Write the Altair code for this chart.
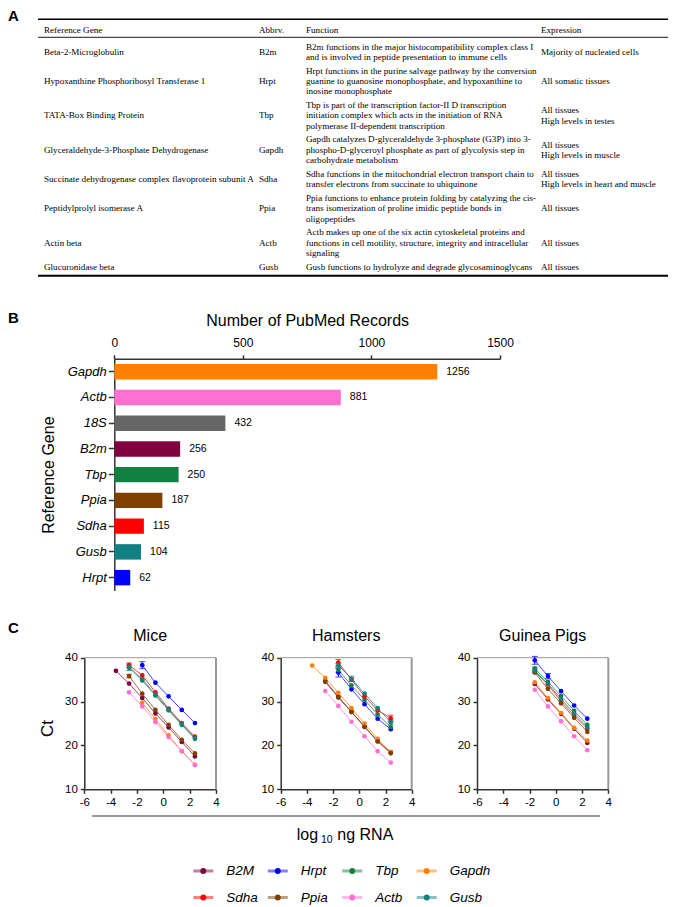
import altair as alt
import pandas as pd

W, H = 669, 897
SANS = "Liberation Sans"
SERIF = "Liberation Serif"

# ---------------- Panel A: reference gene table ----------------
table_header = ["Reference Gene", "Abbrv.", "Function", "Expression"]
gene_names = [
    "Beta-2-Microglobulin",
    "Hypoxanthine Phosphoribosyl Transferase 1",
    "TATA-Box Binding Protein",
    "Glyceraldehyde-3-Phosphate Dehydrogenase",
    "Succinate dehydrogenase complex flavoprotein subunit A",
    "Peptidylprolyl isomerase A",
    "Actin beta",
    "Glucuronidase beta",
]
gene_abbrs = ["B2m", "Hrpt", "Tbp", "Gapdh", "Sdha", "Ppia", "Actb", "Gusb"]
gene_functions = [
    ["B2m functions in the major histocompatibility complex class I",
     "and is involved in peptide presentation to immune cells"],
    ["Hrpt functions in the purine salvage pathway by the conversion",
     "guanine to guanosine monophosphate, and hypoxanthine to",
     "inosine monophosphate"],
    ["Tbp is part of the transcription factor-II D transcription",
     "initiation complex which acts in the initiation of RNA",
     "polymerase II-dependent transcription"],
    ["Gapdh catalyzes D-glyceraldehyde 3-phosphate (G3P) into 3-",
     "phospho-D-glyceroyl phosphate as part of glycolysis step in",
     "carbohydrate metabolism"],
    ["Sdha functions in the mitochondrial electron transport chain to",
     "transfer electrons from succinate to ubiquinone"],
    ["Ppia functions to enhance protein folding by catalyzing the cis-",
     "trans isomerization of proline imidic peptide bonds in",
     "oligopeptides"],
    ["Actb makes up one of the six actin cytoskeletal proteins and",
     "functions in cell motility, structure, integrity and intracellular",
     "signaling"],
    ["Gusb functions to hydrolyze and degrade glycosaminoglycans"],
]
gene_expression = [
    ["Majority of nucleated cells"],
    ["All somatic tissues"],
    ["All tissues", "High levels in testes"],
    ["All tissues", "High levels in muscle"],
    ["All tissues", "High levels in heart and muscle"],
    ["All tissues"],
    ["All tissues"],
    ["All tissues"],
]

# ---------------- Panel B: PubMed records ----------------
pub_genes = ["Gapdh", "Actb", "18S", "B2m", "Tbp", "Ppia", "Sdha", "Gusb", "Hrpt"]
pub_counts = [1256, 881, 432, 256, 250, 187, 115, 104, 62]
pub_colors = ["#FF8000", "#FF70D0", "#666666", "#800040", "#118040",
              "#804000", "#FF0000", "#118080", "#0000FF"]

# ---------------- Panel C: standard curves ----------------
log_ng = [-3.6, -2.6, -1.6, -0.6, 0.4, 1.4, 2.4]
series = ["B2M", "Hrpt", "Tbp", "Gapdh", "Sdha", "Ppia", "Actb", "Gusb"]
series_colors = ["#800040", "#0000FF", "#118040", "#FF8000",
                 "#FF0000", "#804000", "#FF70D0", "#118080"]

# values align with the last len(values) entries of log_ng
mice_ct = {
    "B2M": [37.0, 34.1, 30.8, 27.3, 24.1, 20.8, 17.5],
    "Hrpt": [38.3, 34.3, 31.2, 28.1, 25.1],
    "Tbp": [37.7, 34.8, 31.4, 28.0, 24.7, 21.5],
    "Gapdh": [29.7, 26.0, 22.3, 18.7, 15.6],
    "Sdha": [38.3, 36.0, 32.1, 28.4, 25.1, 22.0],
    "Ppia": [35.8, 31.8, 28.1, 24.7, 21.3, 18.2],
    "Actb": [32.1, 28.9, 25.3, 21.9, 18.7, 15.5],
    "Gusb": [37.9, 35.1, 31.6, 28.2, 24.9, 21.7],
}
mice_sd = {
    "B2M": [0.2, 0.2, 0.2, 0.2, 0.2, 0.2, 0.2],
    "Hrpt": [0.8, 0.3, 0.2, 0.2, 0.2],
    "Tbp": [0.6, 0.3, 0.2, 0.2, 0.2, 0.2],
    "Gapdh": [0.2, 0.2, 0.2, 0.2, 0.2],
    "Sdha": [0.5, 0.2, 0.2, 0.2, 0.2, 0.2],
    "Ppia": [0.4, 0.2, 0.2, 0.2, 0.2, 0.2],
    "Actb": [0.2, 0.2, 0.2, 0.2, 0.2, 0.2],
    "Gusb": [0.3, 0.2, 0.2, 0.2, 0.2, 0.2],
}
hamster_ct = {
    "B2M": [34.7, 31.1, 27.7, 24.3, 21.0, 18.5],
    "Hrpt": [36.6, 32.8, 29.4, 26.1, 23.7],
    "Tbp": [37.2, 33.7, 30.4, 27.1, 24.2],
    "Gapdh": [38.2, 35.4, 32.0, 28.5, 25.0, 21.5, 18.4],
    "Sdha": [38.9, 35.0, 31.2, 28.0, 26.2],
    "Ppia": [34.5, 30.9, 27.6, 24.2, 20.9, 18.2],
    "Actb": [32.4, 29.0, 25.4, 22.1, 18.7, 16.1],
    "Gusb": [38.3, 35.2, 31.8, 28.5, 25.3],
}
hamster_sd = {
    "B2M": [0.2, 0.2, 0.2, 0.2, 0.2, 0.2],
    "Hrpt": [1.0, 0.3, 0.2, 0.2, 0.3],
    "Tbp": [0.5, 0.3, 0.2, 0.2, 0.2],
    "Gapdh": [0.2, 0.2, 0.2, 0.2, 0.2, 0.2, 0.2],
    "Sdha": [0.7, 0.4, 0.2, 0.3, 0.7],
    "Ppia": [0.2, 0.2, 0.2, 0.2, 0.2, 0.2],
    "Actb": [0.2, 0.2, 0.2, 0.2, 0.2, 0.2],
    "Gusb": [0.4, 0.6, 0.2, 0.2, 0.5],
}
guinea_ct = {
    "B2M": [34.0, 30.5, 27.2, 23.8, 20.6],
    "Hrpt": [39.4, 35.8, 32.4, 29.1, 26.1],
    "Tbp": [37.5, 34.5, 31.3, 27.9, 24.7],
    "Gapdh": [34.4, 30.8, 27.4, 24.0, 21.1],
    "Sdha": [36.8, 33.9, 30.1, 26.8, 23.8],
    "Ppia": [36.6, 32.9, 29.6, 26.3, 23.1],
    "Actb": [32.7, 28.9, 25.5, 22.1, 18.9],
    "Gusb": [37.0, 34.1, 30.6, 27.3, 24.2],
}
guinea_sd = {
    "B2M": [0.2, 0.2, 0.2, 0.2, 0.2],
    "Hrpt": [0.9, 0.6, 0.2, 0.2, 0.2],
    "Tbp": [0.4, 0.2, 0.2, 0.2, 0.2],
    "Gapdh": [0.2, 0.2, 0.2, 0.2, 0.2],
    "Sdha": [0.3, 0.2, 0.2, 0.2, 0.2],
    "Ppia": [0.2, 0.2, 0.2, 0.2, 0.2],
    "Actb": [0.2, 0.2, 0.2, 0.2, 0.2],
    "Gusb": [0.5, 0.3, 0.2, 0.2, 0.2],
}
panel_titles = ["Mice", "Hamsters", "Guinea Pigs"]

# ================= layout (pixels inside the plot area) =================
TAB_X = [30, 660]
TAB_COLS = [0.0095, 0.3508, 0.4254, 0.7984]
TAB_Y0, TAB_LINE = 31.65, 10.3
TAB_PAD = 0.34

BAR_X = [106.3, 492.0]
BAR_Y = [350.8, 582.5]

PAN_X = [[76.3, 208.0], [272.7, 403.7], [469.0, 600.3]]
PAN_Y = [781.3, 649.7]

LEG_X = [195.3, 418.7]
LEG_Y = [863.0, 889.5]

layers = []

# ================= Panel A =================
recs = []
for c, t in zip(TAB_COLS, table_header):
    recs.append({"cx": c, "u": -0.937, "t": t})
u = 0.0
for i in range(len(gene_names)):
    n = len(gene_functions[i])
    h = n + TAB_PAD
    center = u + h / 2
    recs.append({"cx": TAB_COLS[0], "u": center, "t": gene_names[i]})
    recs.append({"cx": TAB_COLS[1], "u": center, "t": gene_abbrs[i]})
    for k, line in enumerate(gene_functions[i]):
        recs.append({"cx": TAB_COLS[2], "u": u + TAB_PAD / 2 + 0.5 + k, "t": line})
    m = len(gene_expression[i])
    for k, line in enumerate(gene_expression[i]):
        recs.append({"cx": TAB_COLS[3], "u": center - (m - 1) / 2 + k, "t": line})
    u += h
table_df = pd.DataFrame(recs)
rules_df = pd.DataFrame({
    "a": [0, 0, 0], "b": [1, 1, 1],
    "u": [-1.976, -0.228, u + 0.2],
    "w": [1.6, 0.9, 1.8],
})


def tx():
    return alt.Scale(domain=[0, 1], range=TAB_X)


def ty():
    return alt.Scale(domain=[0, 1], range=[TAB_Y0, TAB_Y0 + TAB_LINE])


layers.append(alt.Chart(rules_df).mark_rule(color="black").encode(
    x=alt.X("a:Q", scale=tx(), axis=None),
    x2="b:Q",
    y=alt.Y("u:Q", scale=ty(), axis=None),
    strokeWidth=alt.StrokeWidth("w:Q", scale=None),
))
layers.append(alt.Chart(table_df).mark_text(
    align="left", baseline="middle", font=SERIF, fontSize=9.1, color="black"
).encode(
    x=alt.X("cx:Q", scale=tx(), axis=None),
    y=alt.Y("u:Q", scale=ty(), axis=None),
    text="t:N",
))

# ================= Panel B =================
bar_df = pd.DataFrame({"gene": pub_genes, "count": pub_counts,
                       "label": [str(v) for v in pub_counts], "color": pub_colors})


def bx():
    return alt.Scale(domain=[0, 1500], range=BAR_X)


def by():
    return alt.Scale(domain=pub_genes, range=BAR_Y, paddingInner=0.4, paddingOuter=0.2)


bar_xaxis = alt.Axis(
    orient="top", offset=-BAR_Y[0], values=[0, 500, 1000, 1500], format="d",
    title="Number of PubMed Records", titleFont=SANS, titleFontSize=16,
    titleFontWeight="normal", titleColor="black", titlePadding=8,
    labelFont=SANS, labelFontSize=12, labelColor="black", labelPadding=5,
    tickSize=4, tickColor="#333", tickWidth=1.5, domainColor="#333",
    domainWidth=1.5, grid=False, labelFlush=False, labelOverlap=False,
)
bar_yaxis = alt.Axis(
    orient="left", offset=-BAR_X[0], title="Reference Gene", titleFont=SANS,
    titleFontSize=16, titleFontWeight="normal", titleColor="black",
    titlePadding=11, labelFont=SANS, labelFontSize=13, labelFontStyle="italic",
    labelColor="black", labelPadding=2, tickSize=6, tickColor="#333",
    tickWidth=1.5, domainColor="#333", domainWidth=1.5, grid=False,
)
layers.append(alt.Chart(bar_df).mark_bar().encode(
    x=alt.X("count:Q", scale=bx(), axis=bar_xaxis),
    y=alt.Y("gene:N", scale=by(), axis=bar_yaxis),
    color=alt.Color("color:N", scale=None),
))
layers.append(alt.Chart(bar_df).mark_text(
    align="left", baseline="middle", dx=9, font=SANS, fontSize=10.5, color="black"
).encode(
    x=alt.X("count:Q", scale=bx(), axis=None),
    y=alt.Y("gene:N", scale=by(), axis=None),
    text="label:N",
))


# ================= Panel C =================
def panel(ct, sd, xr, show_title):
    rows = []
    for g, col in zip(series, series_colors):
        vals, errs = ct[g], sd[g]
        xs = log_ng[-len(vals):]
        for xv, yv, ev in zip(xs, vals, errs):
            rows.append({"gene": g, "x": xv, "ct": yv, "lo": yv - ev,
                         "hi": yv + ev, "sd": ev, "color": col})
    df = pd.DataFrame(rows)
    err_df = df[df["sd"] >= 0.4]
    cap_df = pd.concat([
        err_df.assign(cap=err_df["lo"]), err_df.assign(cap=err_df["hi"])
    ])

    def sx():
        return alt.Scale(domain=[-6, 4], range=xr)

    def sy():
        return alt.Scale(domain=[10, 40], range=PAN_Y)

    xaxis = alt.Axis(
        orient="bottom", offset=-(H - PAN_Y[0]), values=[-6, -4, -2, 0, 2, 4],
        labelExpr="'' + datum.value", title=None, labelFont=SANS,
        labelFontSize=11.5, labelColor="black", labelPadding=3, tickSize=4,
        tickColor="#333", tickWidth=1.5, domainColor="#333", domainWidth=1.5,
        grid=False, labelFlush=False, labelOverlap=False,
    )
    ykw = dict(
        orient="left", offset=-xr[0], values=[10, 20, 30, 40], labelFont=SANS,
        labelFontSize=11.5, labelColor="black", labelPadding=3, tickSize=4,
        tickColor="#333", tickWidth=1.5, domainColor="#333", domainWidth=1.5,
        grid=False, labelFlush=False, labelOverlap=False,
    )
    if show_title:
        ykw.update(title="Ct", titleFont=SANS, titleFontSize=17,
                   titleFontWeight="normal", titleColor="black",
                   titlePadding=8, titleY=720)
    else:
        ykw.update(title=None)
    yaxis = alt.Axis(**ykw)

    out = []
    out.append(alt.Chart(pd.DataFrame({"a": [-6], "b": [4], "y": [40]})).mark_rule(
        color="#999", strokeWidth=1
    ).encode(x=alt.X("a:Q", scale=sx(), axis=None), x2="b:Q",
             y=alt.Y("y:Q", scale=sy(), axis=None)))
    out.append(alt.Chart(pd.DataFrame({"x": [4], "a": [10], "b": [40]})).mark_rule(
        color="#999", strokeWidth=2
    ).encode(x=alt.X("x:Q", scale=sx(), axis=None),
             y=alt.Y("a:Q", scale=sy(), axis=None), y2="b:Q"))
    out.append(alt.Chart(df).mark_line(strokeWidth=1, opacity=0.75).encode(
        x=alt.X("x:Q", scale=sx(), axis=xaxis),
        y=alt.Y("ct:Q", scale=sy(), axis=yaxis),
        color=alt.Color("color:N", scale=None),
        detail="gene:N",
    ))
    if len(err_df):
        out.append(alt.Chart(err_df).mark_rule(strokeWidth=1).encode(
            x=alt.X("x:Q", scale=sx(), axis=None),
            y=alt.Y("lo:Q", scale=sy(), axis=None), y2="hi:Q",
            color=alt.Color("color:N", scale=None),
        ))
        out.append(alt.Chart(cap_df).mark_tick(orient="horizontal", size=6, thickness=1).encode(
            x=alt.X("x:Q", scale=sx(), axis=None),
            y=alt.Y("cap:Q", scale=sy(), axis=None),
            color=alt.Color("color:N", scale=None),
        ))
    out.append(alt.Chart(df).mark_circle(size=22, opacity=1).encode(
        x=alt.X("x:Q", scale=sx(), axis=None),
        y=alt.Y("ct:Q", scale=sy(), axis=None),
        color=alt.Color("color:N", scale=None),
    ))
    return out


layers += panel(mice_ct, mice_sd, PAN_X[0], True)
layers += panel(hamster_ct, hamster_sd, PAN_X[1], False)
layers += panel(guinea_ct, guinea_sd, PAN_X[2], False)

# ================= Legend =================
leg_df = pd.DataFrame({
    "gene": series, "color": series_colors,
    "col": [0, 1, 2, 3, 0, 1, 2, 3], "row": [0, 0, 0, 0, 1, 1, 1, 1],
})


def lx():
    return alt.Scale(domain=[0, 3], range=LEG_X)


def ly():
    return alt.Scale(domain=[0, 1], range=LEG_Y)


layers.append(alt.Chart(leg_df).mark_rule(
    xOffset=-10, x2Offset=10, strokeWidth=3, opacity=0.5
).encode(
    x=alt.X("col:Q", scale=lx(), axis=None), x2="col:Q",
    y=alt.Y("row:Q", scale=ly(), axis=None),
    color=alt.Color("color:N", scale=None),
))
layers.append(alt.Chart(leg_df).mark_circle(size=35, opacity=1).encode(
    x=alt.X("col:Q", scale=lx(), axis=None),
    y=alt.Y("row:Q", scale=ly(), axis=None),
    color=alt.Color("color:N", scale=None),
))
layers.append(alt.Chart(leg_df).mark_text(
    align="left", baseline="middle", dx=23, font=SANS, fontSize=13.5,
    fontStyle="italic", color="black"
).encode(
    x=alt.X("col:Q", scale=lx(), axis=None),
    y=alt.Y("row:Q", scale=ly(), axis=None),
    text="gene:N",
))


# ================= annotations =================
def note(s, x, y, **kw):
    return alt.Chart(pd.DataFrame({"t": [s]})).mark_text(**kw).encode(
        x=alt.value(x), y=alt.value(y), text="t:N")


letter = dict(align="left", baseline="alphabetic", font=SANS, fontSize=15,
              fontWeight="bold", color="black")
plain = dict(baseline="alphabetic", font=SANS, fontSize=16, color="black")
layers += [
    note("A", 0, 13, **letter),
    note("B", 0, 314.7, **letter),
    note("C", 0, 625.3, **letter),
    note(panel_titles[0], (PAN_X[0][0] + PAN_X[0][1]) / 2, 632.7, align="center", **plain),
    note(panel_titles[1], (PAN_X[1][0] + PAN_X[1][1]) / 2, 632.7, align="center", **plain),
    note(panel_titles[2], (PAN_X[2][0] + PAN_X[2][1]) / 2, 632.7, align="center", **plain),
    note("log", 288.7, 832, align="left", **plain),
    note("10", 313, 834.7, align="left", baseline="alphabetic", font=SANS,
         fontSize=10.5, color="black"),
    note("ng RNA", 329.3, 832, align="left", **plain),
]
layers.append(alt.Chart(pd.DataFrame({"t": [0]})).mark_rule(
    color="#777", strokeWidth=1.5
).encode(x=alt.value(84), x2=alt.value(592), y=alt.value(808)))

chart = alt.layer(*layers).resolve_scale(
    x="independent", y="independent"
).properties(
    width=W, height=H, padding=0,
    autosize=alt.AutoSizeParams(type="none"),
).configure_view(stroke=None)

chart.save("out.html", embed_options={"renderer": "svg", "actions": False})
